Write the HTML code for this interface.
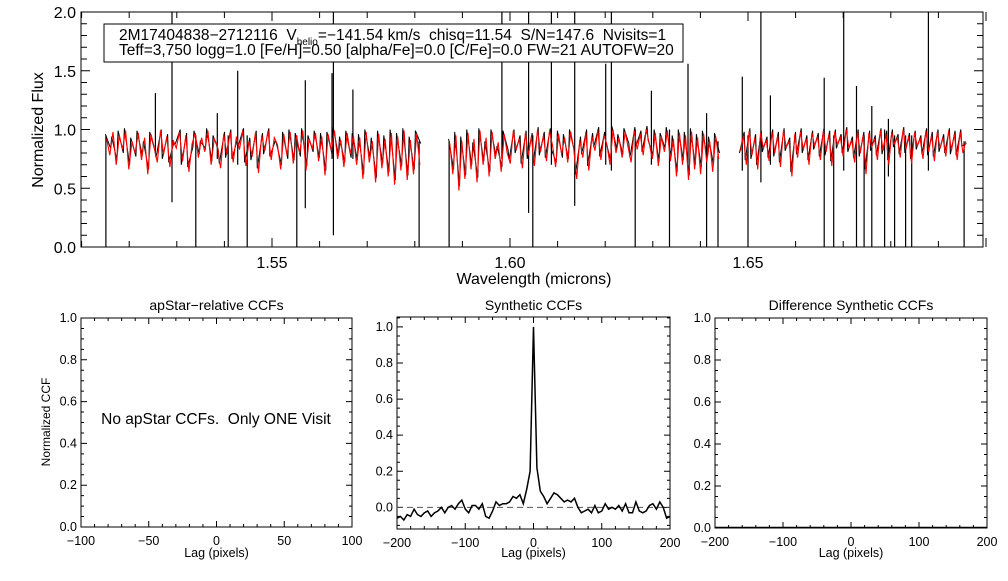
<!DOCTYPE html>
<html><head><meta charset="utf-8"><style>
html,body{margin:0;padding:0;background:#fff;}
svg text{font-family:"Liberation Sans",Helvetica,Arial,sans-serif;fill:#000;white-space:pre;}
</style></head><body>
<svg id="fig" width="1008" height="576" viewBox="0 0 1008 576" xmlns="http://www.w3.org/2000/svg" xml:space="preserve">
<rect width="1008" height="576" fill="#fff"/>
<g id="top"></g>
<g id="p1"></g>
<g id="p2"></g>
<g id="p3"></g>
</svg>
<script>
// ---- spectrum data ----
const chipRanges = [[1.5151,1.5809],[1.5872,1.6437],[1.6483,1.6956]];
const chip1Model = [0.92,0.78,0.98,0.70,0.95,0.83,0.99,0.66,0.90,0.80,0.97,0.74,0.93,0.62,0.96,0.85,0.72,0.99,0.79,0.94,0.68,0.91,0.84,0.98,0.73,0.95,0.64,0.88,0.97,0.76,0.93,0.81,0.99,0.70,0.92,0.86,0.67,0.96,0.79,0.98,0.72,0.94,0.83,0.99,0.69,0.90,0.77,0.97,0.63,0.95,0.82,0.99,0.74,0.93,0.87,0.66,0.96,0.78,0.98,0.71,0.95,0.80,0.99,0.65,0.92,0.84,0.97,0.73,0.94,0.61,0.96,0.82,0.99,0.75,0.91,0.68,0.97,0.79,0.95,0.70,0.93,0.58,0.98,0.72,0.90,0.55,0.96,0.67,0.92,0.60,0.97,0.53,0.94,0.65,0.99,0.57,0.91,0.62,0.96,0.70];
const chip1Flux = [0.96,0.84,0.94,0.74,0.99,0.80,1.01,0.70,0.93,0.77,0.99,0.78,0.90,0.66,0.98,0.82,0.76,1.00,0.75,0.96,0.72,0.89,0.87,1.00,0.70,0.97,0.68,0.85,0.99,0.79,0.90,0.84,1.01,0.73,0.95,0.83,0.71,0.98,0.76,1.00,0.75,0.91,0.86,1.01,0.72,0.93,0.74,0.99,0.67,0.97,0.79,1.01,0.77,0.90,0.89,0.70,0.98,0.75,1.00,0.74,0.97,0.77,1.01,0.69,0.95,0.81,0.99,0.76,0.97,0.65,0.98,0.79,1.02,0.78,0.94,0.72,0.99,0.76,0.97,0.74,0.96,0.62,1.00,0.76,0.93,0.59,0.99,0.71,0.95,0.64,1.00,0.57,0.97,0.69,1.01,0.61,0.94,0.66,0.99,0.88];
const chip2Model = [0.88,0.62,0.95,0.48,0.90,0.58,0.97,0.66,0.92,0.55,0.99,0.70,0.93,0.60,0.98,0.75,0.89,0.64,0.96,0.80,0.71,0.99,0.83,0.92,0.67,0.97,0.78,0.94,0.69,1.00,0.81,0.95,0.73,0.99,0.86,0.68,0.96,0.79,0.93,0.72,0.98,0.84,0.58,0.91,0.76,0.97,0.65,0.94,0.82,0.99,0.74,0.95,0.87,0.70,1.00,0.80,0.93,0.76,0.98,0.85,0.72,0.99,0.83,0.96,0.78,1.00,0.88,0.75,0.97,0.69,0.94,0.81,0.99,0.73,0.92,0.60,0.97,0.70,0.95,0.57,0.98,0.66,0.93,0.62,0.96,0.72,0.90,0.64,0.94,0.75];
const chip2Flux = [0.92,0.66,0.98,0.52,0.94,0.61,1.00,0.70,0.89,0.59,1.01,0.73,0.90,0.64,1.00,0.78,0.86,0.68,0.99,0.83,0.74,1.00,0.80,0.95,0.71,0.99,0.75,0.97,0.72,1.02,0.78,0.98,0.76,1.01,0.83,0.72,0.99,0.76,0.96,0.75,1.00,0.81,0.62,0.94,0.79,1.00,0.69,0.97,0.85,1.02,0.77,0.98,0.90,0.74,1.03,0.83,0.96,0.79,1.01,0.88,0.76,1.02,0.86,0.99,0.81,1.03,0.91,0.78,1.00,0.73,0.97,0.84,1.02,0.77,0.95,0.64,1.00,0.74,0.98,0.61,1.01,0.70,0.96,0.68,0.99,0.76,0.94,0.70,0.97,0.80];
const chip3Model = [0.82,0.95,0.70,0.99,0.78,0.93,0.66,0.97,0.84,0.91,0.73,0.98,0.80,0.95,0.68,0.99,0.85,0.90,0.60,0.96,0.76,0.98,0.83,0.92,0.70,0.97,0.86,0.94,0.74,0.99,0.81,0.96,0.69,0.98,0.87,0.93,0.77,1.00,0.84,0.91,0.72,0.98,0.80,0.95,0.62,0.97,0.85,0.92,0.74,0.99,0.82,0.96,0.70,0.98,0.88,0.93,0.76,1.00,0.83,0.94,0.71,0.97,0.86,0.92,0.75,0.99,0.81,0.95,0.73,0.98,0.84,0.93,0.77,0.99,0.82,0.96,0.74,0.98,0.80,0.90];
const chip3Flux = [0.80,0.98,0.74,1.01,0.75,0.96,0.70,0.99,0.81,0.94,0.76,1.00,0.77,0.98,0.72,1.01,0.82,0.93,0.64,0.98,0.79,1.01,0.80,0.95,0.74,0.99,0.83,0.97,0.77,1.01,0.78,0.99,0.73,1.00,0.84,0.96,0.80,1.02,0.81,0.94,0.76,1.00,0.77,0.98,0.66,0.99,0.82,0.95,0.78,1.01,0.79,0.99,0.74,1.00,0.85,0.96,0.79,1.02,0.80,0.97,0.75,0.99,0.83,0.95,0.79,1.01,0.78,0.98,0.77,1.00,0.81,0.96,0.80,1.01,0.79,0.99,0.78,1.00,0.86,0.88];
// spikes: wavelength, top value, bottom value
const spikeWave = [1.5151,1.5255,1.5290,1.5340,1.5385,1.5428,1.5408,1.5448,1.5552,1.5570,1.5626,1.5629,1.5670,1.5809,1.5872,1.5983,1.6039,1.6048,1.6087,1.6136,1.6201,1.6213,1.6263,1.6297,1.6335,1.6374,1.6413,1.6437,1.6488,1.6500,1.6527,1.6547,1.6660,1.6680,1.6701,1.6728,1.6744,1.6760,1.6787,1.6795,1.6808,1.6831,1.6844,1.6879,1.6954];
const spikeTop = [0.95,1.31,2.05,0.95,1.14,1.50,0.95,0.95,0.95,1.42,1.48,2.05,1.34,0.90,0.90,2.05,2.05,0.95,2.05,2.05,1.56,2.05,1.00,1.33,1.00,1.56,1.14,0.90,1.45,0.95,2.05,1.29,1.44,0.95,2.05,1.37,0.95,1.20,1.00,1.09,0.95,0.95,0.95,2.05,0.90];
const spikeBot = [0.0,0.80,0.38,0.0,0.75,0.70,0.0,0.0,0.0,0.33,0.75,0.10,0.75,0.0,0.0,0.75,0.29,0.0,0.70,0.35,0.70,0.65,0.0,0.70,0.0,0.65,0.0,0.0,0.65,0.0,0.55,0.70,0.0,0.0,0.65,0.0,0.0,0.0,0.0,0.60,0.0,0.0,0.0,0.65,0.0];
// ---- CCF data ----
const lags = [-200,-195,-190,-185,-180,-175,-170,-165,-160,-155,-150,-145,-140,-135,-130,-125,-120,-115,-110,-105,-100,-95,-90,-85,-80,-75,-70,-65,-60,-55,-50,-45,-40,-35,-30,-25,-20,-15,-10,-5,0,5,10,15,20,25,30,35,40,45,50,55,60,65,70,75,80,85,90,95,100,105,110,115,120,125,130,135,140,145,150,155,160,165,170,175,180,185,190,195,200];
const ccfValues = [-0.06,-0.05,-0.07,-0.04,-0.05,-0.01,-0.04,-0.05,-0.03,-0.02,-0.05,-0.03,-0.02,0.00,-0.03,0.00,0.01,-0.01,0.02,0.04,-0.01,-0.03,0.01,0.01,-0.01,0.02,-0.05,-0.06,-0.02,0.03,0.01,0.02,0.02,0.03,0.06,0.05,0.07,0.02,0.10,0.20,1.00,0.22,0.09,0.06,0.02,0.05,0.08,0.07,0.05,0.03,0.04,0.03,0.05,0.00,-0.03,-0.02,-0.01,-0.03,0.01,-0.03,-0.02,0.02,-0.01,0.00,-0.01,0.01,-0.02,0.02,-0.03,-0.03,0.03,-0.02,-0.03,-0.02,0.01,0.02,-0.01,0.03,0.00,-0.06,-0.05];
const specXTicks = ["1.55","1.60","1.65"];
const specYTicks = ["0.0","0.5","1.0","1.5","2.0"];
const ccfYTicks = ["0.0","0.2","0.4","0.6","0.8","1.0"];

const NS="http://www.w3.org/2000/svg";
function mk(parent,tag,attrs,text){const e=document.createElementNS(NS,tag);for(const k in attrs)e.setAttribute(k,attrs[k]);if(text!==undefined)e.textContent=text;parent.appendChild(e);return e;}
function lin(d0,d1,r0,r1){return v=>r0+(v-d0)*(r1-r0)/(d1-d0);}

function axes(g,L,R,T,B,xs,ys,xmaj,xmin,ymaj,ymin,xr,yr,ml,mn){
  const box=mk(g,'rect',{x:L,y:T,width:R-L,height:B-T,fill:'none',stroke:'#000','stroke-width':1});
  
  
  let p='';
  for(let v=Math.ceil(xr[0]/xmin-1e-6)*xmin;v<=xr[1]+1e-9;v+=xmin){const x=xs(v);const isM=Math.abs(v/xmaj-Math.round(v/xmaj))<1e-6;const l=isM?ml:mn;p+=`M${x} ${B}v${-l}M${x} ${T}v${l}`;}
  for(let v=Math.ceil(yr[0]/ymin-1e-6)*ymin;v<=yr[1]+1e-9;v+=ymin){const y=ys(v);const isM=Math.abs(v/ymaj-Math.round(v/ymaj))<1e-6;const l=isM?ml:mn;p+=`M${L} ${y}h${l}M${R} ${y}h${-l}`;}
  const t=mk(g,'path',{d:p,stroke:'#000','stroke-width':1,fill:'none'});
  
  
}

// ---- top spectrum ----
(function(){
  const g=document.getElementById('top');
  const L=81,R=983,T=12,B=247;
  const xs=lin(1.55,1.60,272,510), ys=lin(0,2,247,12);
  const clip=mk(g,'clipPath',{id:'topclip'});mk(clip,'rect',{x:L,y:T,width:R-L,height:B-T});
  const data=[[chip1Flux,chip1Model],[chip2Flux,chip2Model],[chip3Flux,chip3Model]];
  const dg=mk(g,'g',{'clip-path':'url(#topclip)'});
  data.forEach((d,i)=>{
    const [w0,w1]=chipRanges[i];
    const n=d[0].length, half=(w1-w0)/(n-1)/2;
    const pt=d[0].map((v,j)=>`${xs(w0+(w1-w0)*j/(n-1)+(j%2?half:-half*0.3)).toFixed(1)},${ys(v).toFixed(1)}`).join(' ');
    const b=mk(dg,'polyline',{points:pt,fill:'none',stroke:'#000','stroke-width':1});
    
    
  });
  let sp='';
  spikeWave.forEach((w,i)=>{const x=xs(w).toFixed(1);sp+=`M${x} ${ys(spikeBot[i]).toFixed(1)}V${ys(spikeTop[i]).toFixed(1)}`;});
  const s=mk(dg,'path',{d:sp,stroke:'#000','stroke-width':1.2,fill:'none'});
  
  
  data.forEach((d,i)=>{
    const [w0,w1]=chipRanges[i];
    const n=d[1].length, half=(w1-w0)/(n-1)/2;
    const pt=d[1].map((v,j)=>`${xs(w0+(w1-w0)*j/(n-1)+half*0.5).toFixed(1)},${ys(v).toFixed(1)}`).join(' ');
    const r=mk(dg,'polyline',{points:pt,fill:'none',stroke:'#f00','stroke-width':1.1});
    
    
  });
  axes(g,L,R,T,B,xs,ys,0.05,0.01,0.5,0.1,[1.51,1.70],[0,2],9,6);
  specXTicks.forEach(tk=>{const e=mk(g,'text',{x:xs(+tk),y:268,'font-size':16,'text-anchor':'middle'},tk);});
  specYTicks.forEach(tk=>{const e=mk(g,'text',{x:76,y:ys(+tk)+6,'font-size':16,'text-anchor':'end'},tk);});
  const xt=mk(g,'text',{x:534,y:284,'font-size':16,'text-anchor':'middle'},'Wavelength (microns)');
  const yt=mk(g,'text',{x:0,y:0,'font-size':16,'text-anchor':'middle',transform:'translate(43,130) rotate(-90)'},'Normalized Flux');
  const lg=mk(g,'g',{});
  mk(lg,'rect',{x:104,y:24,width:579,height:38,fill:'#fff',stroke:'#000','stroke-width':1});
  const t1=mk(lg,'text',{x:119,y:40,'font-size':15.5});
  t1.innerHTML='2M17404838−2712116  V<tspan font-size="10" dy="5">helio</tspan><tspan dy="-5">=−141.54 km/s  chisq=11.54  S/N=147.6  Nvisits=1</tspan>';
  mk(lg,'text',{x:119,y:55,'font-size':15.5},'Teff=3,750 logg=1.0 [Fe/H]=0.50 [alpha/Fe]=0.0 [C/Fe]=0.0 FW=21 AUTOFW=20');
})();

// ---- bottom panels ----
function ccfPanel(id,L,R,T,B,xr,yr,xmaj,xmin,title,xlabels){
  const g=document.getElementById(id);
  const xs=lin(xr[0],xr[1],L,R), ys=lin(yr[0],yr[1],B,T);
  axes(g,L,R,T,B,xs,ys,xmaj,xmin,0.2,0.05,xr,yr,6,3);
  xlabels.forEach(v=>{const e=mk(g,'text',{x:xs(v),y:B+18,'font-size':12.5,'text-anchor':'middle'},v<0?'−'+(-v):String(v));});
  ccfYTicks.forEach(tk=>{const e=mk(g,'text',{x:L-4,y:ys(+tk)+4,'font-size':12.5,'text-anchor':'end'},tk);});
  const tt=mk(g,'text',{x:(L+R)/2,y:310,'font-size':14,'text-anchor':'middle'},title);
  const xt=mk(g,'text',{x:(L+R)/2,y:557,'font-size':12.5,'text-anchor':'middle'},'Lag (pixels)');
  return {g,xs,ys};
}
(function(){
  const a=ccfPanel('p1',81,352,318,527,[-100,100],[0,1],50,10,'apStar−relative CCFs',[-100,-50,0,50,100]);
  const yt=mk(a.g,'text',{x:0,y:0,'font-size':12,'text-anchor':'middle',transform:'translate(50,422) rotate(-90)'},'Normalized CCF');
  const m=mk(a.g,'text',{x:216,y:424,'font-size':15.5,'text-anchor':'middle'},'No apStar CCFs.  Only ONE Visit');
  const b=ccfPanel('p2',397,670,317,529,[-200,200],[-0.12,1.055],100,20,'Synthetic CCFs',[-200,-100,0,100,200]);
  const z=mk(b.g,'line',{x1:397,x2:670,y1:b.ys(0),y2:b.ys(0),stroke:'#555','stroke-width':1,'stroke-dasharray':'6,4'});
  const pts=lags.map((l,i)=>`${b.xs(l).toFixed(1)},${b.ys(ccfValues[i]).toFixed(1)}`).join(' ');
  const c=mk(b.g,'polyline',{points:pts,fill:'none',stroke:'#000','stroke-width':1.5});
  const d=ccfPanel('p3',715,987,318,528,[-200,200],[0,1],100,20,'Difference Synthetic CCFs',[-200,-100,0,100,200]);
  const dl=mk(d.g,'line',{x1:715,x2:987,y1:d.ys(0)-0.5,y2:d.ys(0)-0.5,stroke:'#000','stroke-width':1.5});
})();
</script>
</body></html>
